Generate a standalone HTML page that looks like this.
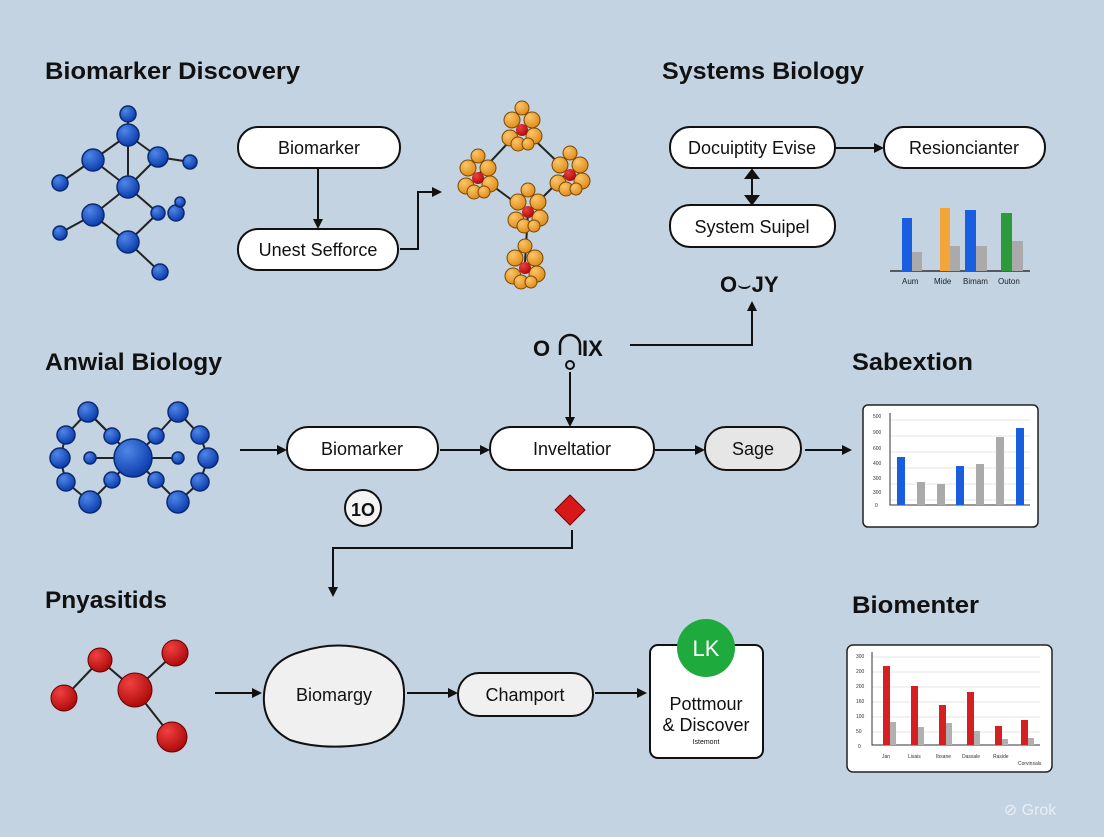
<!DOCTYPE html>
<html><head><meta charset="utf-8"><style>
html,body{margin:0;padding:0;}
body{width:1104px;height:832px;overflow:hidden;background:#c3d3e2;}
svg text{font-family:"Liberation Sans",sans-serif;}
</style></head><body>
<svg width="1104" height="832" viewBox="0 0 1104 832" xmlns="http://www.w3.org/2000/svg">
<defs>
<radialGradient id="b" cx="35%" cy="30%" r="70%"><stop offset="0" stop-color="#4f86e8"/><stop offset="1" stop-color="#0d3fae"/></radialGradient>
<radialGradient id="o" cx="35%" cy="30%" r="70%"><stop offset="0" stop-color="#fcc66a"/><stop offset="1" stop-color="#e08d1c"/></radialGradient>
<radialGradient id="r" cx="35%" cy="30%" r="70%"><stop offset="0" stop-color="#f04040"/><stop offset="1" stop-color="#b00c0c"/></radialGradient>
<marker id="a" markerWidth="10" markerHeight="10" refX="8" refY="5" orient="auto" markerUnits="userSpaceOnUse"><path d="M0,0 L10,5 L0,10 z" fill="#111"/></marker>
<g id="cl">
<g fill="url(#o)" stroke="#7a4a00" stroke-width="1">
<circle cx="-10" cy="-10" r="8"/><circle cx="10" cy="-10" r="8"/><circle cx="-12" cy="8" r="8"/><circle cx="12" cy="6" r="8"/><circle cx="0" cy="-22" r="7"/>
</g><circle cx="0" cy="0" r="6" fill="url(#r)"/>
<g fill="url(#o)" stroke="#7a4a00" stroke-width="1"><circle cx="-4" cy="14" r="7"/><circle cx="6" cy="14" r="6"/></g>
</g>
</defs>
<rect width="1104" height="832" fill="#c3d3e2"/>
<g font-size="24" font-weight="bold" fill="#111" lengthAdjust="spacingAndGlyphs">
<text x="45" y="79" textLength="255" lengthAdjust="spacingAndGlyphs">Biomarker Discovery</text>
<text x="662" y="79" textLength="202" lengthAdjust="spacingAndGlyphs">Systems Biology</text>
<text x="45" y="370" textLength="177" lengthAdjust="spacingAndGlyphs">Anwial Biology</text>
<text x="852" y="370" textLength="121" lengthAdjust="spacingAndGlyphs">Sabextion</text>
<text x="45" y="608" textLength="122" lengthAdjust="spacingAndGlyphs">Pnyasitids</text>
<text x="852" y="613" textLength="127" lengthAdjust="spacingAndGlyphs">Biomenter</text>
</g>
<!-- blue molecule top -->
<g stroke="#222" stroke-width="2">
<line x1="128" y1="135" x2="93" y2="160"/><line x1="128" y1="135" x2="158" y2="157"/><line x1="128" y1="135" x2="128" y2="187"/>
<line x1="93" y1="160" x2="128" y2="187"/><line x1="158" y1="157" x2="128" y2="187"/><line x1="158" y1="157" x2="190" y2="162"/>
<line x1="93" y1="160" x2="60" y2="183"/><line x1="128" y1="187" x2="93" y2="215"/><line x1="128" y1="187" x2="158" y2="213"/>
<line x1="93" y1="215" x2="128" y2="242"/><line x1="158" y1="213" x2="128" y2="242"/><line x1="93" y1="215" x2="60" y2="233"/>
<line x1="128" y1="242" x2="160" y2="272"/><line x1="128" y1="135" x2="128" y2="112"/>
</g>
<g fill="url(#b)" stroke="#0a2a70" stroke-width="1.5">
<circle cx="128" cy="114" r="8"/><circle cx="128" cy="135" r="11"/><circle cx="93" cy="160" r="11"/><circle cx="158" cy="157" r="10"/>
<circle cx="190" cy="162" r="7"/><circle cx="60" cy="183" r="8"/><circle cx="128" cy="187" r="11"/><circle cx="93" cy="215" r="11"/>
<circle cx="158" cy="213" r="7"/><circle cx="176" cy="213" r="8"/><circle cx="180" cy="202" r="5"/><circle cx="60" cy="233" r="7"/>
<circle cx="128" cy="242" r="11"/><circle cx="160" cy="272" r="8"/>
</g>
<!-- orange molecule -->
<g stroke="#222" stroke-width="2" fill="none">
<path d="M522 128 L478 175 L528 212 L568 172 Z"/><line x1="528" y1="212" x2="525" y2="262"/>
</g>
<use href="#cl" transform="translate(522,130)"/>
<use href="#cl" transform="translate(478,178)"/>
<use href="#cl" transform="translate(570,175)"/>
<use href="#cl" transform="translate(528,212)"/>
<use href="#cl" transform="translate(525,268)"/>
<!-- boxes -->
<g fill="#fff" stroke="#111" stroke-width="2">
<rect x="238" y="127" width="162" height="41" rx="20"/>
<rect x="238" y="229" width="160" height="41" rx="20"/>
<rect x="670" y="127" width="165" height="41" rx="20"/>
<rect x="884" y="127" width="161" height="41" rx="20"/>
<rect x="670" y="205" width="165" height="42" rx="20"/>
<rect x="287" y="427" width="151" height="43" rx="21"/>
<rect x="490" y="427" width="164" height="43" rx="21"/>
<rect x="705" y="427" width="96" height="43" rx="21" fill="#e6e6e6"/>
<path d="M300 652 Q335 640 370 650 Q405 660 404 695 Q405 740 360 745 Q320 750 290 740 Q262 725 264 695 Q266 662 300 652 Z" fill="#f0f0f0"/>
<rect x="458" y="673" width="135" height="43" rx="21" fill="#f0f0f0"/>
<rect x="650" y="645" width="113" height="113" rx="8"/>
</g>
<g font-size="18" fill="#111" text-anchor="middle">
<text x="319" y="154">Biomarker</text>
<text x="318" y="256">Unest Sefforce</text>
<text x="752" y="154">Docuiptity Evise</text>
<text x="964" y="154">Resioncianter</text>
<text x="752" y="233">System Suipel</text>
<text x="362" y="455">Biomarker</text>
<text x="572" y="455">Inveltatior</text>
<text x="753" y="455">Sage</text>
<text x="334" y="701">Biomargy</text>
<text x="525" y="701">Champort</text>
<text x="706" y="710">Pottmour</text>
<text x="706" y="731">&amp; Discover</text>
<text x="706" y="744" font-size="7">Istemont</text>
</g>
<circle cx="706" cy="648" r="29" fill="#1faa3e"/>
<text x="706" y="656" font-size="22" fill="#fff" text-anchor="middle">LK</text>
<!-- connectors -->
<g stroke="#111" stroke-width="2" fill="none" marker-end="url(#a)">
<line x1="318" y1="168" x2="318" y2="227"/>
<path d="M400 249 H418 V192 H440"/>
<line x1="835" y1="148" x2="882" y2="148"/>
<path d="M630 345 H752 V303"/>
<line x1="570" y1="372" x2="570" y2="425"/>
<line x1="240" y1="450" x2="285" y2="450"/>
<line x1="440" y1="450" x2="488" y2="450"/>
<line x1="655" y1="450" x2="703" y2="450"/>
<line x1="805" y1="450" x2="850" y2="450"/>
<path d="M572 530 V548 H333 V595"/>
<line x1="215" y1="693" x2="260" y2="693"/>
<line x1="407" y1="693" x2="456" y2="693"/>
<line x1="595" y1="693" x2="645" y2="693"/>
</g>
<g stroke="#111" stroke-width="2" fill="#111">
<line x1="752" y1="178" x2="752" y2="197"/>
<path d="M746 178 L752 170 L758 178 Z"/><path d="M746 196 L752 204 L758 196 Z"/>
</g>
<g font-size="22" font-weight="bold" fill="#111">
<text x="720" y="292">O<tspan font-weight="normal">⌣</tspan>JY</text>
<text x="533" y="356">O</text><text x="582" y="356">IX</text>
</g>
<path d="M560 355 V345 A10 10 0 0 1 580 345 V355" stroke="#111" stroke-width="2.5" fill="none"/>
<circle cx="570" cy="365" r="4" fill="none" stroke="#111" stroke-width="2"/>
<circle cx="363" cy="508" r="18" fill="#f4f4f4" stroke="#111" stroke-width="2"/>
<text x="363" y="516" font-size="18" font-weight="bold" text-anchor="middle" fill="#111">1O</text>
<path d="M570 495 L585 510 L570 525 L555 510 Z" fill="#d81818" stroke="#700" stroke-width="1"/>
<!-- middle molecule -->
<g stroke="#222" stroke-width="2" fill="none">
<path d="M88 412 L66 435 L60 458 L66 482 L90 502 L112 480 L133 458 L112 436 Z"/>
<path d="M178 412 L200 435 L208 458 L200 482 L178 502 L156 480 L133 458 L156 436 Z"/>
<line x1="88" y1="412" x2="112" y2="436"/><line x1="90" y1="458" x2="133" y2="458"/><line x1="178" y1="458" x2="133" y2="458"/>
</g>
<g fill="url(#b)" stroke="#0a2a70" stroke-width="1.5">
<circle cx="133" cy="458" r="19"/>
<circle cx="88" cy="412" r="10"/><circle cx="66" cy="435" r="9"/><circle cx="60" cy="458" r="10"/><circle cx="66" cy="482" r="9"/><circle cx="90" cy="502" r="11"/><circle cx="112" cy="480" r="8"/><circle cx="112" cy="436" r="8"/><circle cx="90" cy="458" r="6"/>
<circle cx="178" cy="412" r="10"/><circle cx="200" cy="435" r="9"/><circle cx="208" cy="458" r="10"/><circle cx="200" cy="482" r="9"/><circle cx="178" cy="502" r="11"/><circle cx="156" cy="480" r="8"/><circle cx="156" cy="436" r="8"/><circle cx="178" cy="458" r="6"/>
</g>
<!-- red molecule -->
<g stroke="#222" stroke-width="2">
<line x1="64" y1="698" x2="100" y2="660"/><line x1="100" y1="660" x2="135" y2="690"/><line x1="135" y1="690" x2="175" y2="653"/><line x1="135" y1="690" x2="172" y2="737"/>
</g>
<g fill="url(#r)" stroke="#600" stroke-width="1">
<circle cx="64" cy="698" r="13"/><circle cx="100" cy="660" r="12"/><circle cx="135" cy="690" r="17"/><circle cx="175" cy="653" r="13"/><circle cx="172" cy="737" r="15"/>
</g>
<!-- top right chart -->
<line x1="890" y1="271" x2="1030" y2="271" stroke="#333" stroke-width="1.5"/>
<g>
<rect x="902" y="218" width="10" height="53" fill="#1a5ee0"/><rect x="912" y="252" width="10" height="19" fill="#aaa"/>
<rect x="940" y="208" width="10" height="63" fill="#f4a53a"/><rect x="950" y="246" width="10" height="25" fill="#aaa"/>
<rect x="965" y="210" width="11" height="61" fill="#1a5ee0"/><rect x="976" y="246" width="11" height="25" fill="#aaa"/>
<rect x="1001" y="213" width="11" height="58" fill="#2a9a3a"/><rect x="1012" y="241" width="11" height="30" fill="#aaa"/>
</g>
<g font-size="8" fill="#222"><text x="902" y="284">Aum</text><text x="934" y="284">Mide</text><text x="963" y="284">Bimam</text><text x="998" y="284">Outon</text></g>
<!-- mid right chart -->
<rect x="863" y="405" width="175" height="122" rx="5" fill="#fff" stroke="#222" stroke-width="1.5"/>
<g stroke="#e4e4e4"><line x1="890" y1="420" x2="1030" y2="420"/><line x1="890" y1="436" x2="1030" y2="436"/><line x1="890" y1="452" x2="1030" y2="452"/><line x1="890" y1="468" x2="1030" y2="468"/><line x1="890" y1="484" x2="1030" y2="484"/><line x1="890" y1="500" x2="1030" y2="500"/></g>
<path d="M890 413 V505 H1030" stroke="#333" fill="none"/>
<g fill="#1a5ee0"><rect x="897" y="457" width="8" height="48"/><rect x="956" y="466" width="8" height="39"/><rect x="1016" y="428" width="8" height="77"/></g>
<g fill="#aaa"><rect x="917" y="482" width="8" height="23"/><rect x="937" y="484" width="8" height="21"/><rect x="976" y="464" width="8" height="41"/><rect x="996" y="437" width="8" height="68"/></g>
<g font-size="5" fill="#333"><text x="873" y="418">500</text><text x="873" y="434">900</text><text x="873" y="450">600</text><text x="873" y="465">400</text><text x="873" y="480">300</text><text x="873" y="494">300</text><text x="875" y="507">0</text></g>
<!-- bottom right chart -->
<rect x="847" y="645" width="205" height="127" rx="6" fill="#fff" stroke="#222" stroke-width="1.5"/>
<g stroke="#e4e4e4"><line x1="872" y1="657" x2="1040" y2="657"/><line x1="872" y1="672" x2="1040" y2="672"/><line x1="872" y1="687" x2="1040" y2="687"/><line x1="872" y1="702" x2="1040" y2="702"/><line x1="872" y1="717" x2="1040" y2="717"/><line x1="872" y1="732" x2="1040" y2="732"/></g>
<path d="M872 652 V745 H1040" stroke="#333" fill="none"/>
<g fill="#d42020"><rect x="883" y="666" width="7" height="79"/><rect x="911" y="686" width="7" height="59"/><rect x="939" y="705" width="7" height="40"/><rect x="967" y="692" width="7" height="53"/><rect x="995" y="726" width="7" height="19"/><rect x="1021" y="720" width="7" height="25"/></g>
<g fill="#b0b0b0"><rect x="890" y="722" width="6" height="23"/><rect x="918" y="727" width="6" height="18"/><rect x="946" y="723" width="6" height="22"/><rect x="974" y="731" width="6" height="14"/><rect x="1002" y="739" width="6" height="6"/><rect x="1028" y="738" width="6" height="7"/></g>
<g font-size="5" fill="#333"><text x="856" y="658">300</text><text x="856" y="673">200</text><text x="856" y="688">200</text><text x="856" y="703">160</text><text x="856" y="718">100</text><text x="856" y="733">50</text><text x="858" y="748">0</text>
<text x="882" y="758">Jan</text><text x="908" y="758">Lisais</text><text x="936" y="758">Ibsane</text><text x="962" y="758">Dassale</text><text x="993" y="758">Raside</text><text x="1018" y="765">Corvinsals</text></g>
<text x="1030" y="815" font-size="16" fill="#e8eef5" text-anchor="middle">⊘ Grok</text>
</svg>
</body></html>
